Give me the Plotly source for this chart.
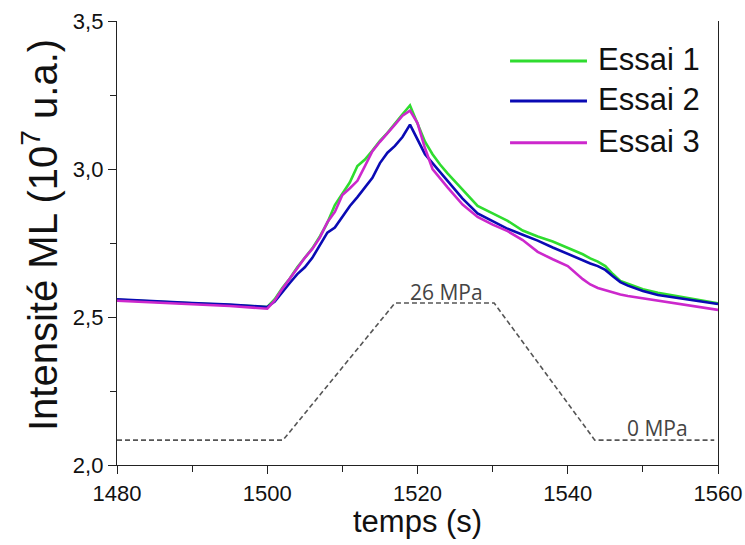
import plotly.graph_objects as go

# time axis (s)
temps = [1480, 1485, 1490, 1495, 1500, 1501, 1502, 1503, 1504, 1505, 1506, 1507,
         1508, 1509, 1510, 1511, 1512, 1513, 1514, 1515, 1516, 1517, 1518, 1519,
         1520, 1521, 1522, 1523, 1524, 1526, 1528, 1530, 1532, 1534, 1536, 1538,
         1540, 1542, 1543, 1544, 1545, 1546, 1547, 1548, 1550, 1552, 1554, 1556,
         1558, 1560]

essai_1 = [2.558, 2.552, 2.546, 2.541, 2.534, 2.560, 2.598, 2.630, 2.668, 2.700, 2.732, 2.772,
           2.818, 2.878, 2.918, 2.955, 3.010, 3.032, 3.062, 3.095, 3.122, 3.155, 3.185, 3.215,
           3.155, 3.092, 3.050, 3.015, 2.985, 2.930, 2.875, 2.850, 2.825, 2.792, 2.772, 2.755,
           2.733, 2.712, 2.698, 2.687, 2.672, 2.645, 2.622, 2.612, 2.594, 2.582, 2.573, 2.565,
           2.556, 2.546]

essai_2 = [2.560, 2.553, 2.547, 2.542, 2.534, 2.552, 2.585, 2.615, 2.645, 2.668, 2.700, 2.742,
           2.785, 2.802, 2.840, 2.875, 2.905, 2.938, 2.970, 3.020, 3.055, 3.078, 3.108, 3.150,
           3.100, 3.050, 3.020, 2.990, 2.960, 2.900, 2.850, 2.823, 2.798, 2.778, 2.758, 2.735,
           2.713, 2.690, 2.681, 2.672, 2.659, 2.638, 2.618, 2.606, 2.588, 2.574, 2.566, 2.559,
           2.552, 2.544]

essai_3 = [2.555, 2.549, 2.543, 2.537, 2.528, 2.556, 2.595, 2.628, 2.665, 2.700, 2.730, 2.768,
           2.820, 2.855, 2.912, 2.935, 2.960, 3.010, 3.060, 3.092, 3.120, 3.150, 3.180, 3.197,
           3.155, 3.070, 3.000, 2.968, 2.938, 2.880, 2.838, 2.812, 2.790, 2.760, 2.720, 2.695,
           2.672, 2.628, 2.610, 2.598, 2.590, 2.582, 2.576, 2.571, 2.563, 2.555, 2.548, 2.540,
           2.532, 2.524]

# applied pressure profile (MPa)
temps_pression = [1480, 1502.1, 1517.0, 1530.2, 1543.6, 1559.5]
pression = [0, 0, 26, 26, 0, 0]

series = [
    ('Essai 1', essai_1, '#2fdc2f'),
    ('Essai 2', essai_2, '#0a0ab4'),
    ('Essai 3', essai_3, '#cc28cc'),
]

font_main = 'Liberation Sans, Arial, sans-serif'
font_note = 'Open Sans'

fig = go.Figure()

for name, vals, color in series:
    fig.add_trace(go.Scatter(
        x=temps, y=vals, name=name, mode='lines',
        line=dict(color=color, width=2.6), showlegend=False
    ))

fig.add_trace(go.Scatter(
    x=temps_pression, y=pression, mode='lines', yaxis='y2',
    showlegend=False, line=dict(color='#555555', width=1.6, dash='5px,3px')
))

# legend drawn by hand so the line samples are as long as in the original
legend_y = [0.910, 0.820, 0.726]
for (name, vals, color), ly in zip(series, legend_y):
    fig.add_shape(type='line', xref='paper', yref='paper', x0=0.654, x1=0.782,
                  y0=ly, y1=ly, line=dict(color=color, width=3))
    fig.add_annotation(x=0.797, y=ly, xref='paper', yref='paper', text=name,
                       showarrow=False, xanchor='left', yanchor='middle', yshift=1,
                       font=dict(family=font_main, size=31, color='#111111'))

fig.add_annotation(x=1523.9, y=26, xref='x', yref='y2', text='26 MPa', showarrow=False,
                   yanchor='bottom', yshift=-5, font=dict(family=font_note, size=21, color='#444444'))
fig.add_annotation(x=1552.0, y=0, xref='x', yref='y2', text='0 MPa', showarrow=False,
                   yanchor='bottom', yshift=-4, font=dict(family=font_note, size=21, color='#444444'))

# axis titles
fig.add_annotation(x=0.5, y=0, xref='paper', yref='paper', text='temps (s)', showarrow=False,
                   xanchor='center', yanchor='top', yshift=-37,
                   font=dict(family=font_main, size=31, color='#111111'))
fig.add_annotation(x=0, y=0.5, xref='paper', yref='paper', text='Intensité ML (10<sup>7</sup> u.a.)',
                   showarrow=False, textangle=-90, xanchor='center', yanchor='middle',
                   xshift=-77, yshift=8, font=dict(family=font_main, size=40, color='#111111'))

axis_common = dict(showline=True, linecolor='#222222', linewidth=1.3, showgrid=False,
                   zeroline=False, tickcolor='#222222', automargin=False)

fig.update_layout(
    width=745, height=545,
    margin=dict(l=117, r=27, t=21, b=80),
    paper_bgcolor='white', plot_bgcolor='white',
    separators=', ',
    showlegend=False,
    font=dict(family=font_main, color='#111111'),
    xaxis=dict(
        range=[1480, 1560], dtick=20, tick0=1480,
        ticks='outside', ticklen=8, tickwidth=1.3,
        minor=dict(ticks='outside', dtick=10, ticklen=6, tickwidth=1.3, tickcolor='#222222'),
        tickfont=dict(size=22, color='#111111'),
        **axis_common
    ),
    xaxis2=dict(
        overlaying='x', side='top', range=[1480, 1560], dtick=20, tick0=1480,
        ticks='inside', ticklen=9, tickwidth=1.3, showticklabels=False,
        minor=dict(ticks='inside', dtick=10, ticklen=5, tickwidth=1.3, tickcolor='#222222'),
        **axis_common
    ),
    yaxis=dict(
        range=[2.0, 3.5], dtick=0.5, tick0=2.0, tickformat='.1f',
        ticks='outside', ticklen=8, tickwidth=1.3, mirror=True,
        minor=dict(ticks='outside', dtick=0.25, ticklen=6, tickwidth=1.3, tickcolor='#222222'),
        tickfont=dict(size=22, color='#111111'),
        **axis_common
    ),
    yaxis2=dict(
        overlaying='y', range=[-4.72, 79.5], visible=False
    ),
)

# drop the default 8px page margin so the figure fills the window exactly
fig.write_html("out.html", config={'displayModeBar': False},
               post_script="document.body.style.margin='0';")
